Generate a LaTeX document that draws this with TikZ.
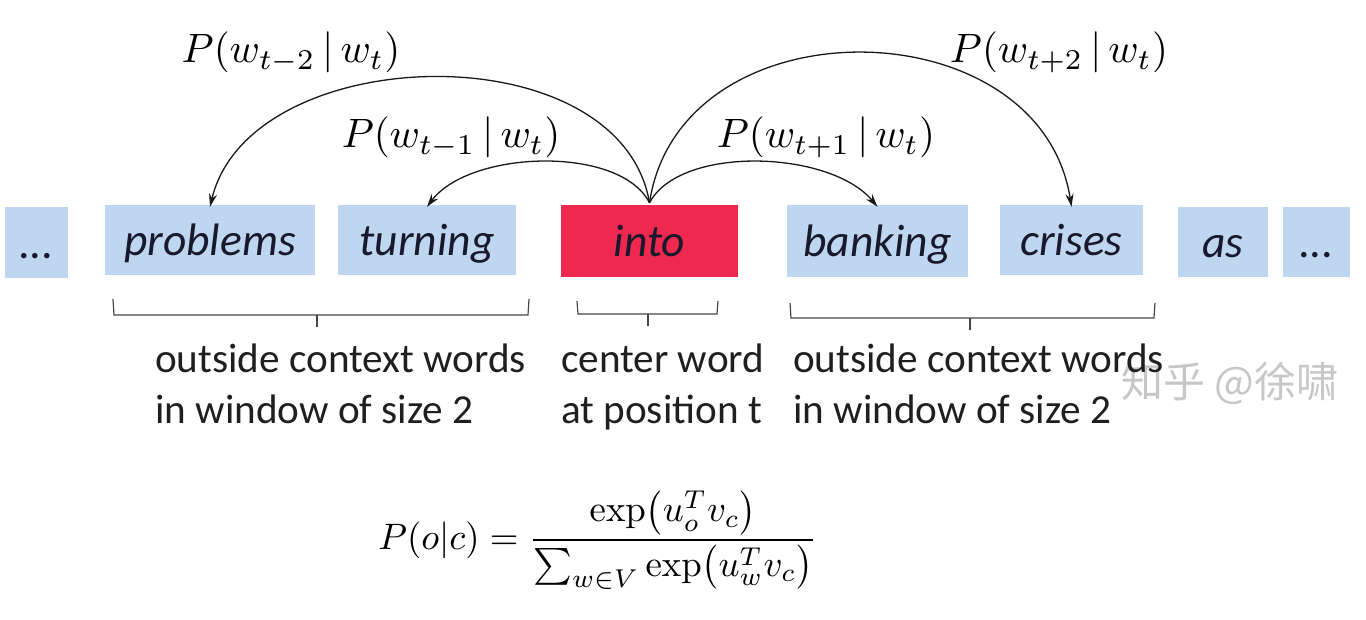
\documentclass[tikz,border=0pt]{standalone}
\usepackage[no-math]{fontspec}
\setmainfont{Carlito}
\newfontfamily\cjkfont{Noto Sans CJK SC}
\usepackage{graphicx}
\usetikzlibrary{arrows.meta}
\definecolor{wordblue}{RGB}{190,214,240}
\definecolor{centerred}{RGB}{238,40,78}
\definecolor{inkc}{RGB}{25,25,45}
\definecolor{brk}{RGB}{70,70,70}
\tikzset{
  wordbox/.style={fill=wordblue, draw=none, inner sep=0pt, text=inkc,
    font=\fontsize{45.5}{50}\selectfont\itshape, text height=34pt, text depth=2pt},
  ctxarrow/.style={line width=1.3pt, draw=black!90, -{Stealth[length=13pt,width=8pt]}},
  bracket/.style={line width=1.2pt, draw=brk},
  lbl/.style={inner sep=0pt, anchor=base west, align=left, text=black!88,
    font=\fontsize{41.2}{50}\selectfont},
  plbl/.style={inner sep=0pt, anchor=base},
}
\begin{document}
\begin{tikzpicture}[x=1pt, y=-1pt]
\useasboundingbox (0,0) rectangle (1366,620);
% watermark
\node[inner sep=0pt, anchor=west, text=black!22, font=\cjkfont\fontsize{42}{46}\selectfont] (wm) at (1121,383) {知乎 @徐啸};
% word boxes
\node[wordbox, minimum width=63pt, minimum height=71pt] (dl) at (36.5,242.5) {...};
\node[wordbox, minimum width=210pt, minimum height=70pt] (problems) at (210,240) {problems};
\node[wordbox, minimum width=178pt, minimum height=70pt] (turning) at (427,240) {turning};
\node[wordbox, fill=centerred, minimum width=177pt, minimum height=72pt] (into) at (649.5,241) {into};
\node[wordbox, minimum width=181pt, minimum height=72pt] (banking) at (877.5,241) {banking};
\node[wordbox, minimum width=143pt, minimum height=70pt] (crises) at (1071.5,240) {crises};
\node[wordbox, minimum width=90pt, minimum height=70pt] (as) at (1223,242) {as};
\node[wordbox, minimum width=67pt, minimum height=70pt] (dr) at (1316.5,242) {...};
% arrows
\draw[ctxarrow] ([yshift=2pt]into.north) .. controls (620,30) and (250,40) .. ([yshift=-2pt]problems.north);
\draw[ctxarrow] ([yshift=2pt]into.north) .. controls (620,145) and (470,150) .. ([yshift=-2pt]turning.north);
\draw[ctxarrow] ([yshift=2pt]into.north) .. controls (680,145) and (830,150) .. ([yshift=-2pt]banking.north);
\draw[ctxarrow] ([yshift=2pt]into.north) .. controls (680,0) and (1040,5) .. ([yshift=-2pt]crises.north);
% probability labels
\node[plbl] (pm2) at (291,63) {\scalebox{4.1}{$P(w_{t-2}\,|\,w_t)$}};
\node[plbl] (pm1) at (451,148) {\scalebox{4.1}{$P(w_{t-1}\,|\,w_t)$}};
\node[plbl] (pp1) at (826,148) {\scalebox{4.1}{$P(w_{t+1}\,|\,w_t)$}};
\node[plbl] (pp2) at (1059,63) {\scalebox{4.1}{$P(w_{t+2}\,|\,w_t)$}};
% brackets
\draw[bracket] (113,299) -- (114,315) -- (528,315) -- (529,299);
\draw[bracket] (317,315) -- (317,327);
\draw[bracket] (577,301) -- (578,314) -- (717,314) -- (718,301);
\draw[bracket] (648,314) -- (648,326);
\draw[bracket] (790,303) -- (791,318) -- (1154,318) -- (1155,303);
\draw[bracket] (970,318) -- (970,330);
% labels
\node[lbl] (l1) at (155,373) {outside context words};
\node[lbl] (l2) at (155,423) {in window of size 2};
\node[lbl] (c1) at (561,373) {center word};
\node[lbl] (c2) at (561,423) {at position t};
\node[lbl] (r1) at (793,373) {outside context words};
\node[lbl] (r2) at (793,423) {in window of size 2};
% formula
\node[inner sep=0pt] (formula) at (598,540) {\scalebox{3.68}{$\displaystyle P(o|c)=\frac{\exp\bigl(u_o^T v_c\bigr)}{\sum_{w\in V}\exp\bigl(u_w^T v_c\bigr)}$}};
\end{tikzpicture}
\end{document}
